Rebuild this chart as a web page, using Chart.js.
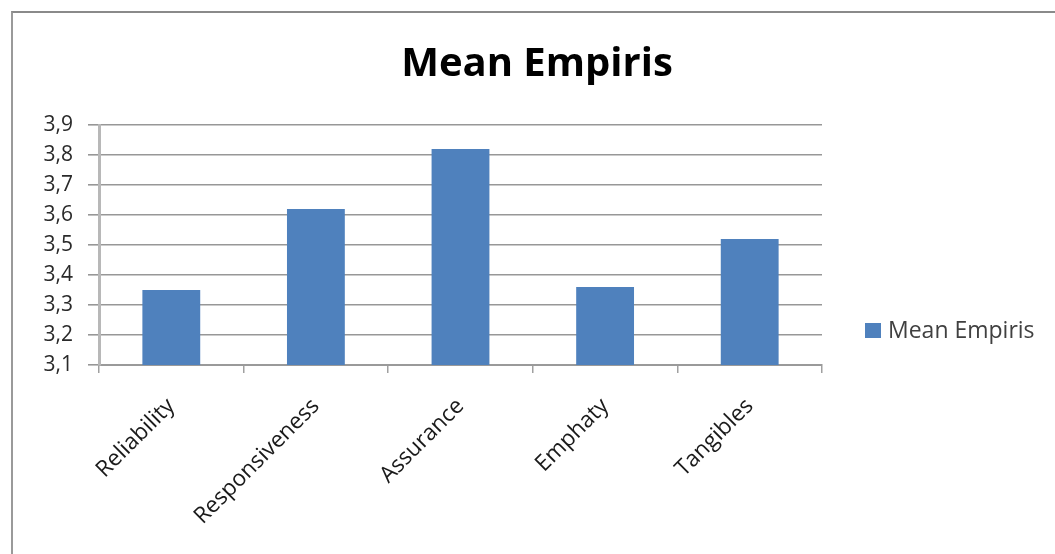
<!DOCTYPE html>
<html>
<head>
<meta charset="utf-8">
<script src="https://cdn.jsdelivr.net/npm/chart.js@4.4.1/dist/chart.umd.min.js"></script>
<style>
  html, body { margin: 0; padding: 0; background: #ffffff; }
  #wrap { position: relative; width: 1055px; height: 554px; overflow: hidden; }
  #frame { position: absolute; left: 11px; top: 11px; right: -4px; bottom: -4px;
           border-top: 2px solid #8a8a8a; border-left: 2px solid #9a9a9a; }
  #c { position: absolute; left: 0; top: 0; }
</style>
</head>
<body>
<div id="wrap">
  <div id="frame"></div>
  <canvas id="c" width="1055" height="554"></canvas>
</div>
<script>
// Dimension names and their mean scores
const categories = ['Reliability', 'Responsiveness', 'Assurance', 'Emphaty', 'Tangibles'];
const meanEmpiris = [3.35, 3.62, 3.82, 3.36, 3.52];
const seriesName = 'Mean Empiris';
const chartTitle = 'Mean Empiris';
const yMin = 3.1;
const yMax = 3.9;
const yStep = 0.1;

const FONT = "'Open Sans', 'Liberation Sans', sans-serif";
const BAR_BLUE = '#4f81bd';

// Legend drawn to the right of the plot, one entry per dataset
const sideLegend = {
  id: 'sideLegend',
  afterDraw(chart) {
    const ctx = chart.ctx;
    const area = chart.chartArea;
    ctx.save();
    chart.data.datasets.forEach((ds, i) => {
      const x = area.right + 43;
      const y = 331 + i * 30;
      ctx.fillStyle = ds.backgroundColor;
      ctx.fillRect(x, y - 8, 16, 15);
      ctx.fillStyle = '#404040';
      ctx.font = "23px " + FONT;
      ctx.textBaseline = 'middle';
      ctx.textAlign = 'left';
      ctx.fillText(ds.label, x + 23, y);
    });
    ctx.restore();
  }
};

new Chart(document.getElementById('c'), {
  type: 'bar',
  data: {
    labels: categories,
    datasets: [{
      label: seriesName,
      data: meanEmpiris,
      backgroundColor: BAR_BLUE,
      borderWidth: 0,
      barPercentage: 0.4,
      categoryPercentage: 1.0
    }]
  },
  options: {
    responsive: false,
    animation: false,
    devicePixelRatio: 1,
    layout: { padding: { left: 19, right: 0, top: 0, bottom: 0 } },
    plugins: {
      legend: { display: false },
      tooltip: { enabled: false },
      title: {
        display: true,
        text: chartTitle,
        color: '#000000',
        font: { family: FONT, size: 40, weight: '700' },
        padding: { top: 41, bottom: 36 }
      }
    },
    scales: {
      x: {
        offset: true,
        grid: { offset: true, drawOnChartArea: false, drawTicks: true, tickLength: 8, color: '#a0a0a0', lineWidth: 1.5 },
        border: { display: true, color: '#9a9a9a', width: 2 },
        ticks: {
          color: '#1a1a1a',
          font: { family: FONT, size: 22.5 },
          minRotation: 45,
          maxRotation: 45,
          padding: 20
        },
        afterFit(scale) { scale.height = 189; }
      },
      y: {
        min: yMin,
        max: yMax,
        grid: { color: '#979797', lineWidth: 1.6, drawTicks: true, tickLength: 11 },
        border: { display: true, color: '#b8b8b8', width: 3 },
        ticks: {
          stepSize: yStep,
          color: '#2a2a2a',
          font: { family: FONT, size: 21 },
          padding: 15,
          callback: (v) => Number(v).toFixed(1).replace('.', ',')
        },
        afterFit(scale) { scale.width = 80; }
      },
      // empty band on the right that holds the legend
      legendSpace: {
        position: 'right',
        display: true,
        grid: { display: false, drawTicks: false },
        border: { display: false },
        ticks: { display: false },
        afterFit(scale) { scale.width = 233; }
      }
    }
  },
  plugins: [sideLegend]
});
</script>
</body>
</html>
